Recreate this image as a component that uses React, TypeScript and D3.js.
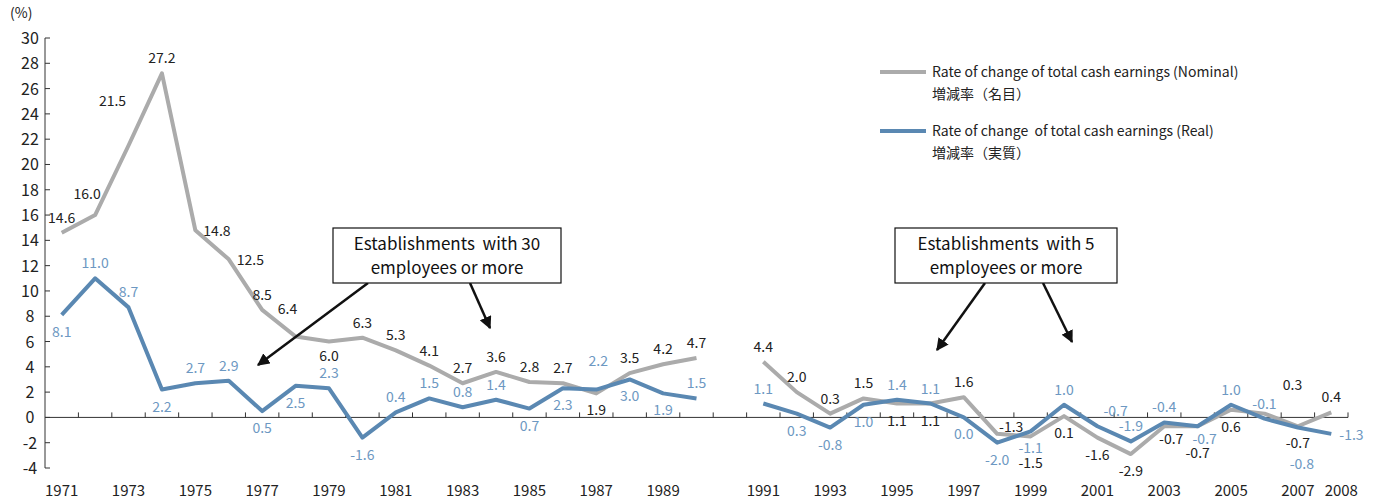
import { useEffect, useRef } from 'react';
import * as d3 from 'd3';

// years 1971-1990 and 1991-2008, one empty slot between
const yearsA = d3.range(1971, 1991);
const yearsB = d3.range(1991, 2009);

const nominalA = [14.6, 16.0, 21.5, 27.2, 14.8, 12.5, 8.5, 6.4, 6.0, 6.3, 5.3, 4.1, 2.7, 3.6, 2.8, 2.7, 1.9, 3.5, 4.2, 4.7];
const realA = [8.1, 11.0, 8.7, 2.2, 2.7, 2.9, 0.5, 2.5, 2.3, -1.6, 0.4, 1.5, 0.8, 1.4, 0.7, 2.3, 2.2, 3.0, 1.9, 1.5];
const nominalB = [4.4, 2.0, 0.3, 1.5, 1.1, 1.1, 1.6, -1.3, -1.5, 0.1, -1.6, -2.9, -0.7, -0.7, 0.6, 0.3, -0.7, 0.4];
const realB = [1.1, 0.3, -0.8, 1.0, 1.4, 1.1, 0.0, -2.0, -1.1, 1.0, -0.7, -1.9, -0.4, -0.7, 1.0, -0.1, -0.8, -1.3];

// label side per point: a above, b below, c just below, B far below, D deepest, r right,
// R right-above, L left-above, U far left-above, T high above, Q far right-above, q near right, s right-below
const nomSideA = 'aLUarrahcaaaaaaabaaa';
const realSideA = 'baabaabbabaaaabbTbba';
const nomSideB = 'aaaabbaqBbbbsBbQba';
const realSideB = 'abbbaabbbaRaasaaDr';

const yTicks = d3.range(-4, 31, 2);
const xLabels = [...yearsA.filter(y => y % 2 === 1), ...yearsB.filter(y => y % 2 === 1), 2008];

const GRAY = '#ababab';
const BLUE = '#5a88b2';
const BLUE_TXT = '#6d98c2';
const FONT = '"Noto Sans CJK JP", "Noto Sans", sans-serif';

const OFFSETS: Record<string, [number, number, string]> = {
  a: [0, -10, 'middle'],
  h: [-8, -22, 'middle'],
  b: [0, 22, 'middle'],
  c: [0, 19, 'middle'],
  B: [0, 32, 'middle'],
  D: [4, 41, 'middle'],
  r: [8, 6, 'start'],
  R: [6, -10, 'start'],
  L: [-8, -16, 'middle'],
  U: [-16, -40, 'middle'],
  T: [2, -24, 'middle'],
  Q: [28, -24, 'middle'],
  q: [14, -2, 'middle'],
  s: [7, 18, 'middle'],
};

export default function App() {
  const ref = useRef<SVGSVGElement>(null);

  useEffect(() => {
    const svg = d3.select(ref.current);
    svg.selectAll('*').remove();
    const slots = [...yearsA.map(String), 'gap', ...yearsB.map(String)];
    const x = d3.scaleBand<string>().domain(slots).range([45, 1348]);
    const cx = (yr: number) => (x(String(yr)) as number) + x.bandwidth() / 2;
    const y = d3.scaleLinear().domain([-4, 30]).range([468, 38]);

    const g = svg.append('g').attr('font-family', FONT);

    // y axis
    g.append('line').attr('x1', 45).attr('x2', 45).attr('y1', y(30)).attr('y2', y(-4)).attr('stroke', '#333');
    yTicks.forEach(t => {
      g.append('line').attr('x1', 45).attr('x2', 50).attr('y1', y(t)).attr('y2', y(t)).attr('stroke', '#333');
      g.append('text').attr('x', 30).attr('y', y(t) + 6).attr('text-anchor', 'middle')
        .attr('font-size', 16).attr('fill', '#222').text(t);
    });
    g.append('text').attr('x', 10).attr('y', 18).attr('font-size', 14).attr('fill', '#222').text('(%)');

    // x axis
    g.append('line').attr('x1', 45).attr('x2', 1348).attr('y1', y(0)).attr('y2', y(0)).attr('stroke', '#333');
    slots.forEach(s => {
      const e = (x(s) as number) + x.bandwidth();
      g.append('line').attr('x1', e).attr('x2', e).attr('y1', y(0)).attr('y2', y(0) - 5).attr('stroke', '#333');
    });
    xLabels.forEach(yr => {
      g.append('text').attr('x', cx(yr) + (yr === 2008 ? 10 : 0)).attr('y', 496).attr('text-anchor', 'middle')
        .attr('font-size', 15).attr('fill', '#222').text(yr);
    });

    const line = d3.line<[number, number]>().x(d => cx(d[0])).y(d => y(d[1]));
    const drawSeries = (years: number[], vals: number[], color: string) => {
      g.append('path').attr('d', line(years.map((yr, i) => [yr, vals[i]]))!)
        .attr('fill', 'none').attr('stroke', color).attr('stroke-width', 4).attr('stroke-linejoin', 'round');
    };
    drawSeries(yearsA, nominalA, GRAY);
    drawSeries(yearsB, nominalB, GRAY);
    drawSeries(yearsA, realA, BLUE);
    drawSeries(yearsB, realB, BLUE);

    const drawLabels = (years: number[], vals: number[], sides: string, color: string) => {
      years.forEach((yr, i) => {
        const [dx, dy, anchor] = OFFSETS[sides[i]];
        g.append('text').attr('x', cx(yr) + dx).attr('y', y(vals[i]) + dy).attr('text-anchor', anchor)
          .attr('font-size', 14).attr('fill', color).text(vals[i].toFixed(1));
      });
    };
    drawLabels(yearsA, nominalA, nomSideA, '#222');
    drawLabels(yearsB, nominalB, nomSideB, '#222');
    drawLabels(yearsA, realA, realSideA, BLUE_TXT);
    drawLabels(yearsB, realB, realSideB, BLUE_TXT);

    // legend
    const legend = [
      { c: GRAY, t1: 'Rate of change of total cash earnings (Nominal)', t2: '増減率（名目）', yy: 72 },
      { c: BLUE, t1: 'Rate of change  of total cash earnings (Real)', t2: '増減率（実質）', yy: 131 },
    ];
    legend.forEach(l => {
      g.append('line').attr('x1', 880).attr('x2', 926).attr('y1', l.yy).attr('y2', l.yy)
        .attr('stroke', l.c).attr('stroke-width', 4);
      g.append('text').attr('x', 932).attr('y', l.yy + 5).attr('font-size', 14).attr('fill', '#222')
        .style('white-space', 'pre').text(l.t1);
      g.append('text').attr('x', 932).attr('y', l.yy + 27).attr('font-size', 14).attr('fill', '#222').text(l.t2);
    });

    // annotation boxes and arrows
    const defs = svg.append('defs');
    defs.append('marker').attr('id', 'arr').attr('viewBox', '0 0 10 10').attr('refX', 9).attr('refY', 5)
      .attr('markerWidth', 5).attr('markerHeight', 5).attr('orient', 'auto')
      .append('path').attr('d', 'M0,0L10,5L0,10z').attr('fill', '#111');
    const boxes = [
      { x: 333, w: 228, l1: 'Establishments  with 30', l2: 'employees or more',
        arrows: [[368, 283, 258, 365], [470, 283, 490, 328]] },
      { x: 895, w: 222, l1: 'Establishments  with 5', l2: 'employees or more',
        arrows: [[985, 283, 937, 350], [1043, 283, 1072, 342]] },
    ];
    boxes.forEach(b => {
      b.arrows.forEach(a => {
        g.append('line').attr('x1', a[0]).attr('y1', a[1]).attr('x2', a[2]).attr('y2', a[3])
          .attr('stroke', '#111').attr('stroke-width', 2.5).attr('marker-end', 'url(#arr)');
      });
      g.append('rect').attr('x', b.x).attr('y', 228).attr('width', b.w).attr('height', 55)
        .attr('fill', '#fff').attr('stroke', '#111').attr('stroke-width', 1.2);
      g.append('text').attr('x', b.x + b.w / 2).attr('y', 250).attr('text-anchor', 'middle')
        .attr('font-size', 17).attr('fill', '#111').style('white-space', 'pre').text(b.l1);
      g.append('text').attr('x', b.x + b.w / 2).attr('y', 274).attr('text-anchor', 'middle')
        .attr('font-size', 17).attr('fill', '#111').text(b.l2);
    });
  }, []);

  return <svg ref={ref} width={1373} height={502} style={{ position: 'absolute', left: 0, top: 0 }} />;
}
